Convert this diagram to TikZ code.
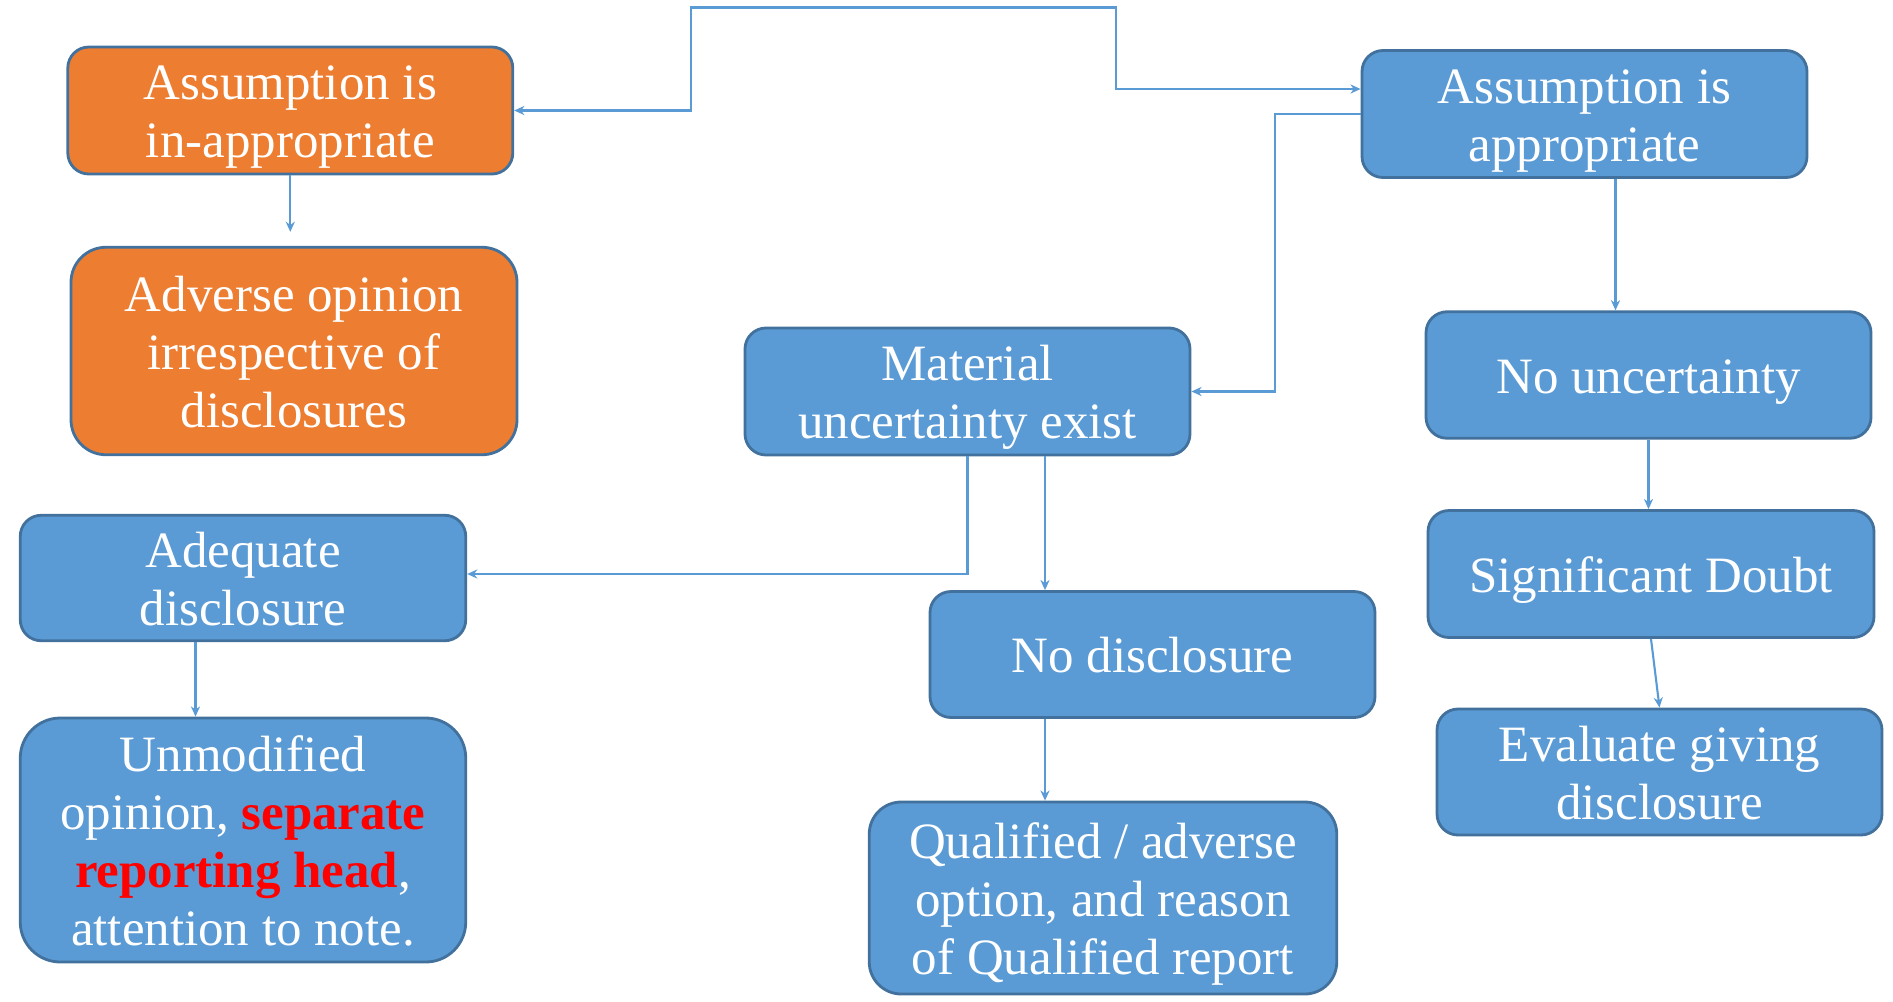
\documentclass[tikz,border=0pt]{standalone}
\usepackage{fontspec}
\setmainfont{Liberation Serif}
\usepackage{tikz}
\usetikzlibrary{arrows.meta}

\definecolor{boxblue}{HTML}{5B9BD5}
\definecolor{boxedge}{HTML}{41719C}
\definecolor{boxorange}{HTML}{ED7D31}
\definecolor{redtext}{HTML}{FF0000}

% fixed ascent for the first line of a box
\newcommand{\topline}{\rule{0pt}{14pt}}

\tikzset{
  stage/.style={draw=boxedge, line width=0.8pt, fill=boxblue, text=white,
    rounded corners=0.21cm, align=center, inner sep=0pt,
    minimum width=4.45cm, minimum height=1.27cm,
    font=\fontsize{14.5}{16.5}\selectfont,
    execute at end node={\rule[-3.5pt]{0pt}{0pt}}},
  badstage/.style={stage, fill=boxorange},
  link/.style={draw=boxblue, line width=0.6pt,
    arrows={-Stealth[length=2.9pt,width=2.6pt]}},
}

\begin{document}
\begin{tikzpicture}
\useasboundingbox (0cm,0cm) rectangle (18.93cm,-10.01cm);

% left column
\node[badstage] (inappr) at (2.903cm,-1.105cm) {\topline Assumption is\\in-appropriate};
\node[badstage, minimum width=4.46cm, minimum height=2.075cm, rounded corners=0.35cm] (adverse) at (2.94cm,-3.51cm) {\topline Adverse opinion\\irrespective of\\disclosures};
\node[stage, minimum width=4.455cm, minimum height=1.255cm] (adequate) at (2.43cm,-5.78cm) {\topline Adequate\\disclosure};
\node[stage, minimum width=4.455cm, minimum height=2.44cm, rounded corners=0.4cm] (unmod) at (2.43cm,-8.40cm) {\topline Unmodified\\opinion, \textcolor{redtext}{\textbf{separate}}\\\textcolor{redtext}{\textbf{reporting head}},\\attention to note.};

% middle column
\node[stage] (material) at (9.675cm,-3.915cm) {\topline Material\\uncertainty exist};
\node[stage, minimum height=1.26cm] (nodiscl) at (11.525cm,-6.545cm) {\topline No disclosure};
\node[stage, minimum width=4.675cm, minimum height=1.92cm, rounded corners=0.32cm] (qualified) at (11.03cm,-8.98cm) {\topline Qualified / adverse\\option, and reason\\of Qualified report};

% right column
\node[stage] (appr) at (15.845cm,-1.14cm) {\topline Assumption is\\appropriate};
\node[stage, minimum height=1.265cm] (nouncert) at (16.485cm,-3.75cm) {\topline No uncertainty};
\node[stage, minimum width=4.46cm] (doubt) at (16.51cm,-5.74cm) {\topline Significant Doubt};
\node[stage, minimum height=1.26cm] (evaluate) at (16.595cm,-7.72cm) {\topline Evaluate giving\\disclosure};

\coordinate (topL) at (6.91cm,-0.075cm);
\coordinate (topR) at (11.16cm,-0.075cm);

\draw[link, arrows={Stealth[length=2.9pt,width=2.6pt]-Stealth[length=2.9pt,width=2.6pt]}] (inappr.east) -| (topL) -- (topR) |- ([yshift=0.25cm]appr.west);
\draw[link] (appr.west) -- ++(-0.86cm,0) |- (material.east);
\draw[link] ([xshift=0.31cm]appr.south) -- ([xshift=0.31cm]appr.south |- nouncert.north);
\draw[link] (inappr.south) -- ([yshift=0.14cm]inappr.south |- adverse.north);
\draw[link] (material.south) |- ([yshift=0.04cm]adequate.east);
\draw[link] ([xshift=0.775cm]material.south) -- ([xshift=0.775cm]material.south |- nodiscl.north);
\draw[link] ([xshift=-0.475cm]adequate.south) -- ([xshift=-0.475cm]adequate.south |- unmod.north);
\draw[link] ([xshift=-1.075cm]nodiscl.south) -- ([xshift=-1.075cm]nodiscl.south |- qualified.north);
\draw[link] (nouncert.south) -- (nouncert.south |- doubt.north);
\draw[link] (doubt.south) -- (evaluate.north);
\end{tikzpicture}
\end{document}
